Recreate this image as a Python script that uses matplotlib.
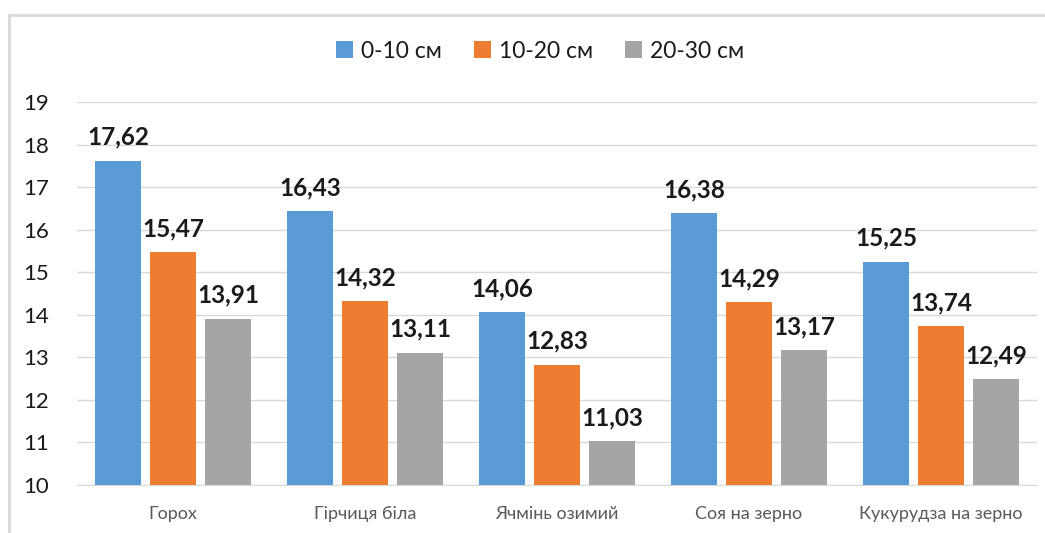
import matplotlib
matplotlib.use("Agg")
import matplotlib.pyplot as plt
import numpy as np

plt.rcParams['font.family'] = ['Lato', 'DejaVu Sans']

categories = ["Горох", "Гірчиця біла", "Ячмінь озимий", "Соя на зерно", "Кукурудза на зерно"]
series_names = ["0-10 см", "10-20 см", "20-30 см"]
depth_0_10 = [17.62, 16.43, 14.06, 16.38, 15.25]
depth_10_20 = [15.47, 14.32, 12.83, 14.29, 13.74]
depth_20_30 = [13.91, 13.11, 11.03, 13.17, 12.49]
colors = ["#5B9BD5", "#ED7D31", "#A5A5A5"]
yticks = [10, 11, 12, 13, 14, 15, 16, 17, 18, 19]

W, H = 1045, 533
fig = plt.figure(figsize=(W / 100, H / 100), dpi=100)
ax = fig.add_axes([77 / W, 1 - 485 / H, (1037 - 77) / W, (485 - 102) / H])

x = np.arange(len(categories))
step = 0.287
width = 0.24
values = [depth_0_10, depth_10_20, depth_20_30]
for i, (vals, name, c) in enumerate(zip(values, series_names, colors)):
    pos = x + (i - 1) * step
    ax.bar(pos, [v - 10 for v in vals], width=width, bottom=10, color=c, label=name, zorder=3)
    for p, v in zip(pos, vals):
        ax.text(p, v + 0.28, f"{v:.2f}".replace(".", ","), ha="center", va="bottom",
                fontsize=17.5, fontweight="bold", color="#1a1a1a")

ax.set_xlim(-0.5, len(categories) - 0.5)
ax.set_ylim(10, 19)
ax.set_yticks(yticks)
ax.set_yticklabels([str(t) for t in yticks], fontsize=16, color="#1a1a1a")
ax.set_xticks(x)
ax.set_xticklabels(categories, fontsize=13, color="#595959")
ax.tick_params(axis="both", length=0)
ax.tick_params(axis="y", pad=20)
ax.tick_params(axis="x", pad=15)
ax.grid(axis="y", color="#D9D9D9", linewidth=1, zorder=0)
for s in ["top", "right", "left"]:
    ax.spines[s].set_visible(False)
ax.spines["bottom"].set_color("#D9D9D9")

leg = fig.legend(loc="center", bbox_to_anchor=(540 / W, 1 - 51 / H), ncol=3, frameon=False,
                 fontsize=16.5, handlelength=0.75, handleheight=0.75, handletextpad=0.35,
                 columnspacing=1.4)
for t in leg.get_texts():
    t.set_color("#1a1a1a")

# outer chart frame (top and left edges)
fig.add_artist(plt.Line2D([9 / W, 1.0], [1 - 15 / H, 1 - 15 / H], color="#D9D9D9", linewidth=2,
                          transform=fig.transFigure))
fig.add_artist(plt.Line2D([9 / W, 9 / W], [0.0, 1 - 15 / H], color="#D9D9D9", linewidth=2,
                          transform=fig.transFigure))

fig.savefig("out.png", dpi=100)
